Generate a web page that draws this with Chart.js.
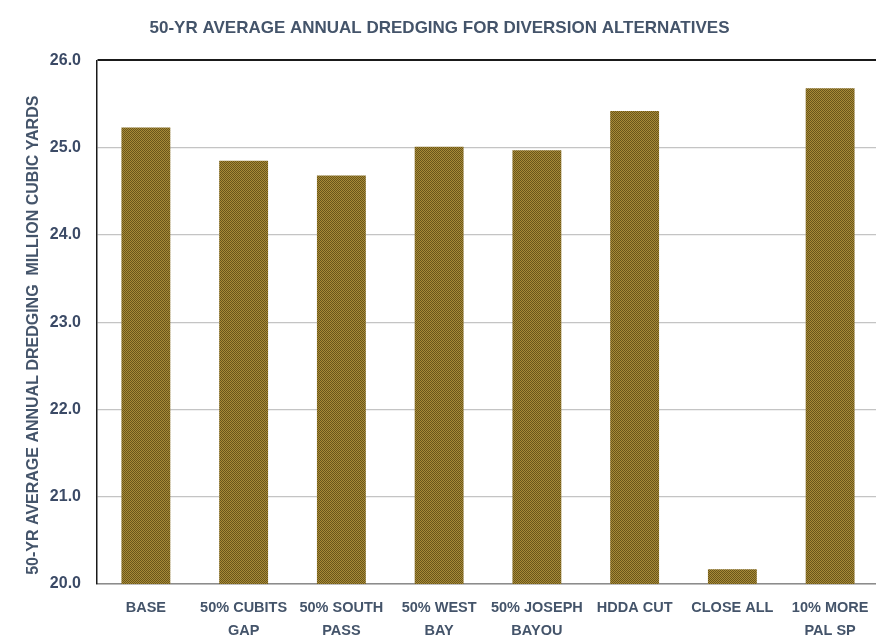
<!DOCTYPE html>
<html>
<head>
<meta charset="utf-8">
<script src="https://cdn.jsdelivr.net/npm/chart.js@4"></script>
<style>
  html,body{margin:0;padding:0;background:#fff;overflow:hidden}
  #wrap{position:relative;width:880px;height:638px}
</style>
</head>
<body>
<div id="wrap"><canvas id="c" width="880" height="638"></canvas></div>
<script>
const categories=[['BASE'],['50% CUBITS','GAP'],['50% SOUTH','PASS'],['50% WEST','BAY'],['50% JOSEPH','BAYOU'],['HDDA CUT'],['CLOSE ALL'],['10% MORE','PAL SP']];
const dredging=[25.23,24.85,24.68,25.01,24.97,25.42,20.17,25.68];
const yTicks=[20,21,22,23,24,25,26];
const yTitle='50-YR AVERAGE ANNUAL DREDGING  MILLION CUBIC YARDS';

const FONT="'Liberation Sans',Arial,sans-serif";
const TXT='#44546a';

// checker fill like the reference bars
function makePattern(){
  const pc=document.createElement('canvas'); pc.width=2; pc.height=2;
  const g=pc.getContext('2d');
  g.fillStyle='#a88a38'; g.fillRect(0,0,2,2);
  g.fillStyle='#69561a'; g.fillRect(0,0,1,1); g.fillRect(1,1,1,1);
  return g.createPattern(pc,'repeat');
}

// y title sits a little below the plot centre in the reference
const yTitlePlugin={id:'ytitle',afterDraw(chart){
  const c=chart.ctx,{top,bottom}=chart.chartArea;
  c.save();
  c.translate(34,(top+bottom)/2+13);
  c.rotate(-Math.PI/2);
  c.font='bold 16px '+FONT;c.fillStyle=TXT;c.textAlign='center';c.textBaseline='middle';
  c.fillText(yTitle,0,0);
  c.restore();
}};

const ctx=document.getElementById('c').getContext('2d');
new Chart(ctx,{
  type:'bar',
  data:{labels:categories,datasets:[{data:dredging,backgroundColor:makePattern(),borderWidth:0,barPercentage:0.5,categoryPercentage:1}]},
  options:{
    responsive:false,animation:false,
    layout:{padding:{left:0,right:1,top:0,bottom:0}},
    plugins:{
      legend:{display:false},tooltip:{enabled:false},
      title:{display:true,text:'50-YR AVERAGE ANNUAL DREDGING FOR DIVERSION ALTERNATIVES',
        color:TXT,font:{family:FONT,size:17,weight:'bold',lineHeight:1.2},padding:{top:18,bottom:22}}
    },
    scales:{
      x:{
        grid:{display:false},
        border:{color:'#8c8c8c',width:1.5},
        ticks:{color:TXT,font:{family:FONT,size:14.5,weight:'bold',lineHeight:1.55},padding:5,maxRotation:0,autoSkip:false},
        afterFit:s=>{s.height=54;}
      },
      y:{
        min:20,max:26,
        afterBuildTicks:s=>{s.ticks=yTicks.map(v=>({value:v}));},
        grid:{drawTicks:false,color:c=>c.tick&&c.tick.value===26?'#1a1a1a':'#c4c4c4',lineWidth:c=>c.tick&&c.tick.value===26?2:1.2},
        border:{color:'#1a1a1a',width:1.5},
        ticks:{color:'#3b4a66',font:{family:FONT,size:16,weight:'bold'},padding:16,callback:v=>Number(v).toFixed(1)},
        afterFit:s=>{s.width=97;}
      }
    }
  },
  plugins:[yTitlePlugin]
});
</script>
</body>
</html>
